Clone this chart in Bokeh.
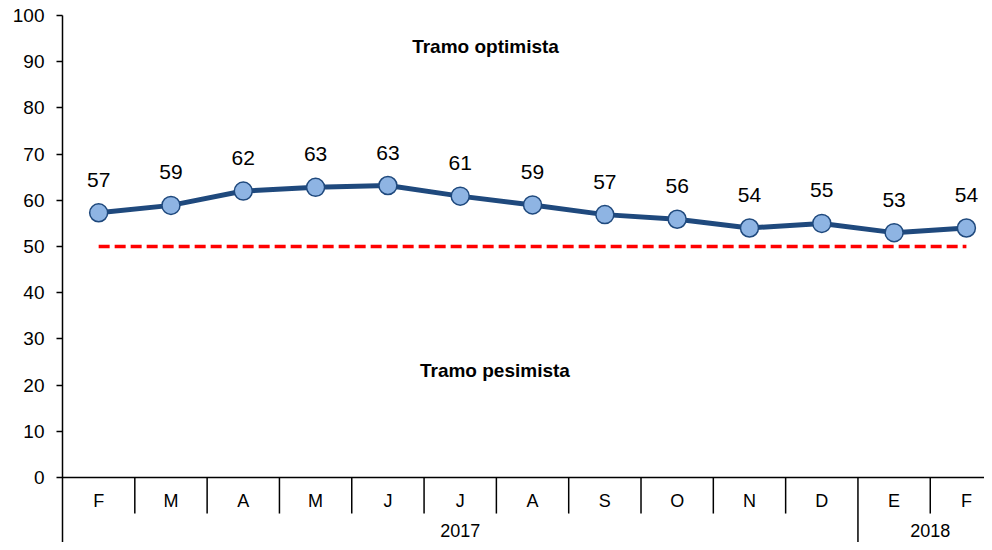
from bokeh.core.properties import value
from bokeh.embed import file_html
from bokeh.models import ColumnDataSource, FixedTicker
from bokeh.plotting import figure
from bokeh.resources import INLINE

months = ["F", "M", "A", "M", "J", "J", "A", "S", "O", "N", "D", "E", "F"]
years = ["2017", "2018"]
months_per_year = [11, 2]
index_values = [57.3, 58.9, 62.0, 62.8, 63.2, 60.9, 59.0, 56.9, 55.9, 54.0, 55.0, 53.0, 54.0]
threshold = 50
zone_labels = ["Tramo optimista", "Tramo pesimista"]
zone_x = [5.85, 5.98]
zone_y = [93.3, 23.2]

FONT = value("Liberation Sans")
n = len(months)
centers = [i + 0.5 for i in range(n)]

y_bottom = -14.07
sep_depth = -7.8
label_y = -4.98
year_y = -11.4

source = ColumnDataSource(data=dict(
    x=centers,
    y=index_values,
    month=months,
    label=[str(int(round(v))) for v in index_values],
))

p = figure(width=984, height=542, output_backend="svg", toolbar_location=None,
           x_range=(0, 12.75), y_range=(y_bottom, 100),
           min_border_left=62, min_border_top=15, min_border_right=0, min_border_bottom=0)
p.outline_line_color = None
p.xgrid.grid_line_color = None
p.ygrid.grid_line_color = None
p.xaxis.visible = False
p.background_fill_color = "white"
p.border_fill_color = "white"

p.yaxis.ticker = FixedTicker(ticks=list(range(0, 101, 10)))
p.yaxis.minor_tick_line_color = None
p.yaxis.major_tick_out = 6
p.yaxis.major_tick_in = 0
p.yaxis.major_label_standoff = 12
p.yaxis.major_label_text_font = "Liberation Sans"
p.yaxis.major_label_text_font_size = "19px"
p.yaxis.major_label_text_color = "black"
p.yaxis.axis_line_color = "black"
p.yaxis.axis_line_width = 1.5
p.yaxis.major_tick_line_width = 1.5

# baseline of the category axis
p.segment(x0=[0], y0=[0], x1=[n], y1=[0], line_color="black", line_width=1.5)

# month separators, year separators run to the bottom
year_bounds = []
acc = 0
for c in months_per_year:
    acc += c
    year_bounds.append(acc)
sep_x = [i for i in range(1, n)]
sep_y1 = [y_bottom if i in year_bounds else sep_depth for i in sep_x]
p.segment(x0=sep_x, y0=[0] * len(sep_x), x1=sep_x, y1=sep_y1, line_color="black", line_width=1.5)

p.text(x=centers, y=[label_y] * n, text=months, text_font=FONT, text_font_size="18px",
       text_align="center", text_baseline="middle", text_color="black")

year_x = []
start = 0
for c in months_per_year:
    year_x.append(start + c / 2)
    start += c
p.text(x=year_x, y=[year_y] * len(years), text=years, text_font=FONT, text_font_size="18px",
       text_align="center", text_baseline="middle", text_color="black")

# threshold line
p.line(x=[centers[0], centers[-1]], y=[threshold, threshold], line_color="#FF0000",
       line_width=3.5, line_dash="11 5")

p.line(x="x", y="y", source=source, line_color="#1F497D", line_width=5)
p.scatter(x="x", y="y", source=source, size=18, marker="circle",
          fill_color="#8EB4E3", line_color="#1F497D", line_width=1.5)
p.text(x="x", y="y", text="label", source=source, text_font=FONT, text_font_size="21px",
       text_align="center", text_baseline="middle", y_offset=-33, text_color="black")

p.text(x=zone_x, y=zone_y, text=zone_labels, text_font=FONT,
       text_font_size="19px", text_font_style="bold", text_align="center",
       text_baseline="middle", text_color="black")

open("out.html", "w").write(file_html(p, INLINE))
